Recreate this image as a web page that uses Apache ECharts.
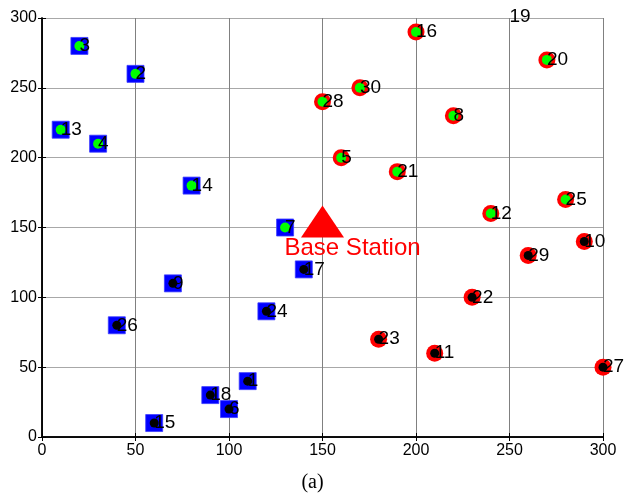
<!DOCTYPE html>
<html>
<head>
<meta charset="utf-8">
<script src="https://cdn.jsdelivr.net/npm/echarts@6/dist/echarts.min.js"></script>
<style>
  html, body { margin: 0; padding: 0; background: #fff; }
  #chart { width: 625px; height: 497px; }
</style>
</head>
<body>
<div id="chart"></div>
<script>
// Sensor nodes: id, position, cluster (1 = square, 2 = circle) and state (1 = active, 0 = idle)
const nodeId      = [1, 2, 3, 4, 5, 6, 7, 8, 9, 10, 11, 12, 13, 14, 15, 16, 17, 18, 19, 20, 21, 22, 23, 24, 25, 26, 27, 28, 29, 30];
const nodeX       = [110, 50, 20, 30, 160, 100, 130, 220, 70, 290, 210, 240, 10, 80, 60, 200, 140, 90, 250, 270, 190, 230, 180, 120, 280, 40, 300, 150, 260, 170];
const nodeY       = [40, 260, 280, 210, 200, 20, 150, 230, 110, 140, 60, 160, 220, 180, 10, 290, 120, 30, 301, 270, 190, 100, 70, 90, 170, 80, 50, 240, 130, 250];
const nodeCluster = [1, 1, 1, 1, 2, 1, 1, 2, 1, 2, 2, 2, 1, 1, 1, 2, 1, 1, 2, 2, 2, 2, 2, 1, 2, 1, 2, 2, 2, 2];
const nodeActive  = [0, 1, 1, 1, 1, 0, 1, 1, 0, 0, 0, 1, 1, 1, 0, 1, 0, 0, 1, 1, 1, 0, 0, 0, 1, 0, 0, 1, 0, 1];

const baseStation = [150, 150];
const baseLabel = 'Base Station';

const axisMin = 0, axisMax = 300, axisStep = 50;

const nodes = nodeId.map((id, i) => ({ id, x: nodeX[i], y: nodeY[i], cluster: nodeCluster[i], active: nodeActive[i] }));
const inRange = n => n.x >= axisMin && n.x <= axisMax && n.y >= axisMin && n.y <= axisMax;
const shown = nodes.filter(inRange);

const pick = (f) => shown.filter(f).map(n => [n.x, n.y]);

const font = 'Arial, "Liberation Sans", Helvetica, sans-serif';

const chart = echarts.init(document.getElementById('chart'), null, { renderer: 'canvas' });

const tickStyle = { show: true, inside: true, length: 4, lineStyle: { color: '#000', width: 1 } };
const lineStyle = { show: true, lineStyle: { color: '#000', width: 1.5 } };

chart.setOption({
  animation: false,
  backgroundColor: '#fff',
  title: {
    text: '(a)',
    left: 'center',
    top: 468,
    textStyle: { fontFamily: '"Times New Roman", "Liberation Serif", serif', fontSize: 20, fontWeight: 'normal', color: '#000' }
  },
  grid: { left: 42, right: 22, top: 18, bottom: 60, show: false },
  xAxis: [
    {
      type: 'value', min: axisMin, max: axisMax, interval: axisStep, position: 'bottom',
      axisLine: lineStyle, axisTick: tickStyle,
      axisLabel: { color: '#000', fontFamily: font, fontSize: 16, margin: 6 },
      splitLine: { show: true, lineStyle: { color: '#808080', width: 1 } }
    },
    {
      type: 'value', min: axisMin, max: axisMax, interval: axisStep, position: 'top',
      axisLine: lineStyle, axisTick: tickStyle, axisLabel: { show: false }, splitLine: { show: false }
    }
  ],
  yAxis: [
    {
      type: 'value', min: axisMin, max: axisMax, interval: axisStep, position: 'left',
      axisLine: lineStyle, axisTick: tickStyle,
      axisLabel: { color: '#000', fontFamily: font, fontSize: 16, margin: 5 },
      splitLine: { show: true, lineStyle: { color: '#a8a8a8', width: 1 } }
    },
    {
      type: 'value', min: axisMin, max: axisMax, interval: axisStep, position: 'right',
      axisLine: lineStyle, axisTick: tickStyle, axisLabel: { show: false }, splitLine: { show: false }
    }
  ],
  series: [
    // cluster outlines
    {
      type: 'scatter', silent: true, symbol: 'rect', symbolSize: 17,
      itemStyle: { color: '#0000ff', borderColor: '#3c3cff', borderWidth: 0.8, opacity: 1 },
      data: pick(n => n.cluster === 1), z: 2
    },
    {
      type: 'scatter', silent: true, symbol: 'circle', symbolSize: 17,
      itemStyle: { color: '#ff0000', opacity: 1 },
      data: pick(n => n.cluster === 2), z: 2
    },
    // node state dots
    {
      type: 'scatter', silent: true, symbol: 'circle', symbolSize: 10,
      itemStyle: { color: '#00ff00', opacity: 1 },
      data: pick(n => n.active === 1), z: 3
    },
    {
      type: 'scatter', silent: true, symbol: 'circle', symbolSize: 9,
      itemStyle: { color: '#000000', opacity: 1 },
      data: pick(n => n.active === 0), z: 3
    },
    // base station
    {
      type: 'scatter', silent: true, symbol: 'triangle', symbolSize: [43, 32], symbolOffset: [0, -6],
      itemStyle: { color: '#ff0000', opacity: 1 },
      label: {
        show: true, position: 'inside', align: 'left', verticalAlign: 'middle', offset: [-38, 27],
        formatter: baseLabel, color: '#ff0000', fontFamily: font, fontSize: 24, textBorderWidth: 0
      },
      data: [baseStation], z: 4
    },
    // node id labels
    {
      type: 'scatter', silent: true, clip: false, symbol: 'circle', symbolSize: 1,
      itemStyle: { color: '#000', opacity: 0 },
      label: {
        show: true, position: 'inside', align: 'left', verticalAlign: 'middle', offset: [0, 0],
        formatter: p => String(p.value[2]), color: '#000', opacity: 1, textBorderWidth: 0,
        fontFamily: font, fontSize: 19
      },
      data: nodes.map(n => [n.x, n.y, n.id]), z: 5
    }
  ]
});
</script>
</body>
</html>
